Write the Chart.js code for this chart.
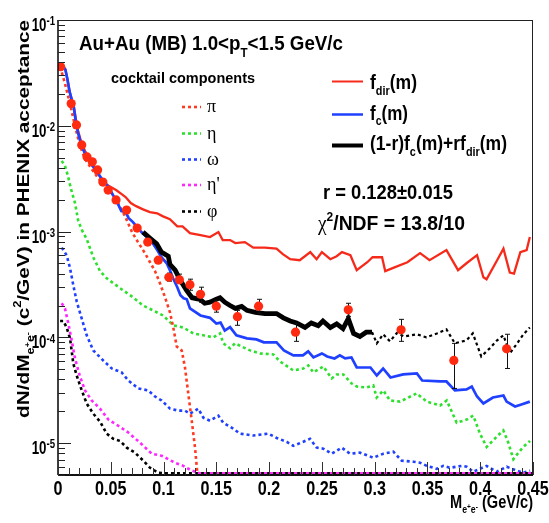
<!DOCTYPE html>
<html>
<head>
<meta charset="utf-8">
<script src="https://cdn.jsdelivr.net/npm/chart.js@4.4.0/dist/chart.umd.min.js"></script>
<style>
  html, body { margin: 0; padding: 0; background: #fff; }
  #wrap { width: 549px; height: 523px; position: relative; }
</style>
</head>
<body>
<div id="wrap"><canvas id="massChart" width="549" height="523"></canvas></div>
<script>
// Measured e+e- pairs (mass in GeV/c^2, yield, error band)
const pointMass = [0.0025, 0.0125, 0.0175, 0.0225, 0.0275, 0.0325, 0.0375, 0.0425, 0.0475, 0.055, 0.065, 0.075, 0.085, 0.095, 0.105, 0.115, 0.125, 0.135, 0.15, 0.17, 0.19, 0.225, 0.275, 0.325, 0.375, 0.425];
const pointY = [0.0362, 0.0162, 0.0102, 0.0066, 0.00508, 0.00456, 0.00383, 0.00294, 0.00247, 0.00199, 0.0016, 0.00108, 0.000795, 0.000537, 0.00037, 0.00035, 0.000315, 0.000255, 0.000197, 0.000157, 0.000197, 0.000112, 0.000182, 0.000118, 0.0000605, 0.000078];
const errHigh = [null, null, null, null, null, null, null, null, null, null, null, null, null, null, 0.000405, 0.000396, 0.000355, 0.000298, 0.000224, 0.00018, 0.000229, 0.000136, 0.00021, 0.000148, 0.0000877, 0.000107];
const errLow = [null, null, null, null, null, null, null, null, null, null, null, null, null, null, 0.00034, 0.000325, 0.000279, 0.000215, 0.000173, 0.00013, 0.000169, 0.0000917, 0.000158, 0.0000917, 0.0000329, 0.0000508];

// f_dir(m)
const fdirMass = [0.003, 0.005, 0.007, 0.009, 0.011, 0.015, 0.017, 0.019, 0.022, 0.026, 0.032, 0.037, 0.041, 0.045, 0.050, 0.055, 0.060, 0.064, 0.069, 0.074, 0.080, 0.087, 0.094, 0.099, 0.106, 0.113, 0.118, 0.125, 0.135, 0.144, 0.152, 0.156, 0.163, 0.168, 0.177, 0.185, 0.196, 0.207, 0.213, 0.220, 0.229, 0.239, 0.245, 0.250, 0.258, 0.264, 0.269, 0.277, 0.283, 0.293, 0.298, 0.307, 0.310, 0.317, 0.331, 0.343, 0.352, 0.368, 0.379, 0.387, 0.397, 0.403, 0.406, 0.416, 0.422, 0.428, 0.432, 0.438, 0.444, 0.447];
const fdirY = [0.0362, 0.0362, 0.034, 0.0273, 0.021, 0.0152, 0.0115, 0.00897, 0.00705, 0.00567, 0.00456, 0.00374, 0.00308, 0.00282, 0.00264, 0.00247, 0.00227, 0.00212, 0.00186, 0.00174, 0.00163, 0.00153, 0.00149, 0.0014, 0.00131, 0.00112, 0.00112, 0.000967, 0.000926, 0.000887, 0.000989, 0.000831, 0.000831, 0.000778, 0.000795, 0.000705, 0.000705, 0.00069, 0.000612, 0.000548, 0.000536, 0.000639, 0.000548, 0.000639, 0.000548, 0.000585, 0.000639, 0.000598, 0.000432, 0.000513, 0.000572, 0.000572, 0.000423, 0.000451, 0.000513, 0.000625, 0.000536, 0.000668, 0.000432, 0.000502, 0.000598, 0.00037, 0.000354, 0.000536, 0.00069, 0.000409, 0.0004, 0.000639, 0.000668, 0.000887];

// f_c(m)
const fcMass = [0.003, 0.005, 0.007, 0.009, 0.011, 0.015, 0.017, 0.019, 0.022, 0.026, 0.032, 0.037, 0.041, 0.048, 0.052, 0.056, 0.060, 0.064, 0.067, 0.071, 0.079, 0.084, 0.089, 0.094, 0.098, 0.103, 0.106, 0.109, 0.113, 0.116, 0.119, 0.122, 0.125, 0.135, 0.144, 0.150, 0.154, 0.158, 0.163, 0.169, 0.179, 0.188, 0.195, 0.207, 0.214, 0.223, 0.232, 0.237, 0.242, 0.250, 0.255, 0.262, 0.267, 0.272, 0.278, 0.283, 0.296, 0.302, 0.308, 0.315, 0.327, 0.340, 0.345, 0.362, 0.368, 0.376, 0.387, 0.392, 0.397, 0.403, 0.412, 0.422, 0.425, 0.433, 0.439, 0.447];
const fcY = [0.0354, 0.0362, 0.034, 0.0273, 0.021, 0.0148, 0.0108, 0.00858, 0.0066, 0.0053, 0.00427, 0.00366, 0.00321, 0.00264, 0.00222, 0.0019, 0.00156, 0.00153, 0.00134, 0.00123, 0.00099, 0.000887, 0.000795, 0.000668, 0.000572, 0.000502, 0.000432, 0.000362, 0.000298, 0.00025, 0.000234, 0.000229, 0.000188, 0.000161, 0.000153, 0.000135, 0.000138, 0.000116, 0.000125, 0.0001045, 0.0000978, 0.0000957, 0.0000897, 0.0000897, 0.0000753, 0.0000675, 0.0000675, 0.0000737, 0.0000646, 0.0000705, 0.000066, 0.0000632, 0.0000675, 0.0000632, 0.0000646, 0.0000519, 0.0000519, 0.0000436, 0.0000508, 0.0000418, 0.0000446, 0.0000456, 0.0000391, 0.0000383, 0.0000383, 0.0000315, 0.0000322, 0.0000343, 0.0000276, 0.0000237, 0.000027, 0.0000282, 0.0000247, 0.0000222, 0.0000232, 0.0000247];

// (1-r)f_c(m) + r f_dir(m): fit range, then its continuation
const comboMass = [0.0805, 0.087, 0.0935, 0.098, 0.1045, 0.106, 0.111, 0.116, 0.122, 0.127, 0.1345, 0.139, 0.144, 0.150, 0.1535, 0.158, 0.163, 0.168, 0.174, 0.179, 0.187, 0.196, 0.207, 0.2135, 0.220, 0.226, 0.234, 0.240, 0.2465, 0.251, 0.258, 0.264, 0.270, 0.275, 0.280, 0.286, 0.292, 0.2975];
const comboY = [0.000989, 0.00087, 0.000766, 0.000639, 0.000585, 0.000491, 0.000432, 0.000344, 0.000276, 0.000237, 0.000229, 0.00021, 0.000215, 0.000229, 0.000237, 0.000215, 0.0002, 0.000188, 0.000196, 0.00018, 0.000172, 0.000168, 0.000168, 0.000153, 0.000143, 0.000137, 0.000124, 0.000137, 0.000129, 0.000143, 0.000124, 0.000134, 0.000121, 0.00015, 0.000109, 0.000102, 0.000112, 0.000112];
const extMass = [0.2975, 0.302, 0.308, 0.3145, 0.321, 0.328, 0.340, 0.349, 0.359, 0.368, 0.376, 0.387, 0.393, 0.401, 0.409, 0.416, 0.422, 0.428, 0.435, 0.441, 0.447];
const extY = [0.000112, 0.0000878, 0.000107, 0.0000917, 0.00011, 0.000102, 0.000107, 0.0001, 0.000109, 0.000119, 0.0000878, 0.0000937, 0.000109, 0.000066, 0.0000787, 0.0000937, 0.0001045, 0.0000705, 0.0000878, 0.000107, 0.000124];

// cocktail components
const piMass = [0.002, 0.0066, 0.0114, 0.0161, 0.0208, 0.0256, 0.0319, 0.0379, 0.0445, 0.0512, 0.0568, 0.0635, 0.0701, 0.0758, 0.0824, 0.0872, 0.0919, 0.0966, 0.1014, 0.1061, 0.1092, 0.1125, 0.1172, 0.1203, 0.1234, 0.1267, 0.1298, 0.132, 0.45];
const piY = [0.0362, 0.0251, 0.0161, 0.01, 0.00646, 0.00487, 0.00391, 0.00321, 0.0027, 0.00227, 0.00186, 0.0014, 0.000989, 0.000795, 0.000625, 0.000513, 0.000423, 0.000325, 0.000239, 0.000172, 0.000124, 0.000082, 0.0000753, 0.0000519, 0.0000295, 0.0000163, 0.0000091, 0.0000052, 0.0000052];
const etaMass = [0.0035, 0.0066, 0.0092, 0.0123, 0.0161, 0.0192, 0.0227, 0.0272, 0.0334, 0.0398, 0.0461, 0.0524, 0.0616, 0.0711, 0.0805, 0.09, 0.0995, 0.1092, 0.1187, 0.1282, 0.1377, 0.1471, 0.1535, 0.1566, 0.163, 0.1677, 0.1756, 0.1819, 0.1914, 0.204, 0.2103, 0.2229, 0.2324, 0.2371, 0.2419, 0.2513, 0.2593, 0.264, 0.2703, 0.2782, 0.283, 0.2925, 0.2987, 0.3019, 0.3082, 0.3145, 0.324, 0.3398, 0.3493, 0.3619, 0.3683, 0.3777, 0.3872, 0.3934, 0.3998, 0.4061, 0.4156, 0.4219, 0.4266, 0.4314, 0.4361, 0.4408, 0.4472];
const etaY = [0.00466, 0.00418, 0.00343, 0.00253, 0.00186, 0.00126, 0.00103, 0.00085, 0.000572, 0.000423, 0.000362, 0.000325, 0.000279, 0.000239, 0.0002, 0.00018, 0.000161, 0.00013, 0.000124, 0.000109, 0.0001045, 0.0001, 0.000109, 0.0000878, 0.0000787, 0.0000878, 0.0000804, 0.0000753, 0.0000705, 0.000069, 0.0000592, 0.0000487, 0.0000508, 0.0000543, 0.0000466, 0.0000531, 0.0000409, 0.0000446, 0.0000446, 0.0000366, 0.0000343, 0.0000336, 0.0000351, 0.000027, 0.0000315, 0.0000253, 0.0000247, 0.0000295, 0.0000247, 0.0000227, 0.0000253, 0.0000156, 0.0000167, 0.0000182, 0.0000123, 0.0000092, 0.0000115, 0.0000132, 0.0000101, 0.00000705, 0.0000081, 0.0000092, 0.0000105];
const omegaMass = [0.0035, 0.0082, 0.0114, 0.0145, 0.0177, 0.0225, 0.0272, 0.0334, 0.0429, 0.0509, 0.0603, 0.0666, 0.0761, 0.0855, 0.0919, 0.0982, 0.1061, 0.114, 0.1203, 0.1251, 0.1329, 0.1377, 0.144, 0.1519, 0.1566, 0.1661, 0.1724, 0.185, 0.1992, 0.2072, 0.2167, 0.2229, 0.2324, 0.2387, 0.2451, 0.2513, 0.2593, 0.2688, 0.2766, 0.2861, 0.2987, 0.3082, 0.3177, 0.3256, 0.3366, 0.343, 0.3493, 0.3588, 0.365, 0.3714, 0.3825, 0.3872, 0.3934, 0.4061, 0.4156, 0.4251, 0.4346, 0.4408, 0.4472];
const omegaY = [0.000705, 0.000598, 0.000451, 0.000311, 0.000219, 0.00015, 0.0001045, 0.0000753, 0.0000604, 0.0000508, 0.0000466, 0.0000391, 0.0000329, 0.0000315, 0.0000276, 0.0000253, 0.0000212, 0.0000203, 0.0000203, 0.000019, 0.0000212, 0.0000174, 0.0000163, 0.0000182, 0.0000156, 0.0000137, 0.0000123, 0.0000118, 0.0000123, 0.0000112, 0.0000103, 0.00000944, 0.0000103, 0.000011, 0.00000907, 0.00000887, 0.00000795, 0.00000907, 0.00000795, 0.00000813, 0.00000729, 0.00000795, 0.0000083, 0.00000683, 0.00000668, 0.00000653, 0.0000061, 0.00000572, 0.0000061, 0.00000585, 0.0000061, 0.00000598, 0.00000537, 0.0000061, 0.00000537, 0.00000598, 0.0000055, 0.00000525, 0.0000055];
const etapMass = [0.0035, 0.0066, 0.0098, 0.013, 0.0161, 0.0208, 0.0256, 0.0319, 0.0398, 0.0477, 0.0571, 0.0666, 0.0777, 0.0888, 0.0982, 0.1108, 0.1187, 0.1267, 0.1345, 0.45];
const etapY = [0.00021, 0.000188, 0.000135, 0.0000937, 0.0000632, 0.0000427, 0.0000315, 0.0000253, 0.0000212, 0.0000167, 0.0000146, 0.0000126, 0.0000101, 0.00000795, 0.0000076, 0.00000653, 0.0000061, 0.0000055, 0.0000052, 0.0000052];
const phiMass = [0.002, 0.005, 0.0082, 0.0114, 0.0145, 0.0177, 0.0225, 0.0272, 0.0334, 0.0398, 0.0461, 0.0524, 0.0587, 0.0651, 0.0729, 0.0808, 0.0872, 0.095, 0.1014, 0.45];
const phiY = [0.000143, 0.000143, 0.000124, 0.0000978, 0.0000566, 0.0000436, 0.0000315, 0.0000237, 0.000019, 0.000016, 0.0000123, 0.000011, 0.0000105, 0.00000907, 0.00000813, 0.00000683, 0.00000585, 0.00000525, 0.0000052, 0.0000052];

// axes
const xTicks = [0, 0.05, 0.1, 0.15, 0.2, 0.25, 0.3, 0.35, 0.4, 0.45];
const xTickLabels = ['0', '0.05', '0.1', '0.15', '0.2', '0.25', '0.3', '0.35', '0.4', '0.45'];
const yDecades = [-5, -4, -3, -2, -1];

const SANS = "'Liberation Sans', Arial, Helvetica, sans-serif";
const SERIF = "'Liberation Serif', 'Times New Roman', serif";
const RED = '#f62a1a';
const BLUE = '#2040ff';
const GREEN = '#2ee02e';
const MAGENTA = '#ff26ff';
const BLACK = '#000';

const sub = (t, s = 0.62, dy = 0.28) => ({ t, s, dy });
const sup = (t, s = 0.62, dy = -0.45) => ({ t, s, dy });

// draw a run of text pieces (sub/superscripts) squeezed to a given width
function drawRich(ctx, parts, x, y, size, o = {}) {
    const fam = o.family || SANS;
    const weight = o.weight || 'bold';
    const fontOf = p => `${p.wt || weight} ${(size * (p.s || 1)).toFixed(1)}px ${p.f || fam}`;
    let w = 0;
    parts.forEach(p => { ctx.font = fontOf(p); p.w = ctx.measureText(p.t).width; w += p.w; });
    const sx = o.width ? o.width / w : (o.sx || 0.8);
    let x0 = x;
    if (o.align === 'right') x0 = x - w * sx;
    else if (o.align === 'center') x0 = x - w * sx / 2;
    ctx.save();
    ctx.translate(x0, y);
    ctx.scale(sx, 1);
    ctx.fillStyle = o.color || '#000';
    ctx.textBaseline = 'alphabetic';
    ctx.textAlign = 'left';
    let cx = 0;
    parts.forEach(p => {
        ctx.font = fontOf(p);
        ctx.fillText(p.t, cx, (p.dy || 0) * size);
        cx += p.w;
    });
    ctx.restore();
}

function segment(ctx, x1, y1, x2, y2, color, width, dash) {
    ctx.save();
    ctx.strokeStyle = color;
    ctx.lineWidth = width;
    ctx.setLineDash(dash || []);
    ctx.beginPath();
    ctx.moveTo(x1, y1);
    ctx.lineTo(x2, y2);
    ctx.stroke();
    ctx.restore();
}

const pairs = (xs, ys) => xs.map((x, i) => ({ x, y: ys[i] }));
const curve = (label, xs, ys, color, width, dash, order) => ({
    label, data: pairs(xs, ys), showLine: true, borderColor: color, borderWidth: width,
    borderDash: dash || [], pointRadius: 0, tension: 0, fill: false, order
});

const DOT = [3, 3];
const datasets = [
    { label: 'data', data: pairs(pointMass, pointY), pointRadius: 4.6, pointBackgroundColor: '#ff2a10', pointBorderWidth: 0, showLine: false, order: 0 },
    curve('combo ext', extMass, extY, BLACK, 2.2, DOT, 1),
    curve('combo', comboMass, comboY, BLACK, 4.8, null, 2),
    curve('fc', fcMass, fcY, BLUE, 2.7, null, 3),
    curve('fdir', fdirMass, fdirY, RED, 2.3, null, 4),
    curve('etap', etapMass, etapY, MAGENTA, 2.6, DOT, 5),
    curve('pi', piMass, piY, '#ff3a22', 2.6, DOT, 6),
    curve('phi', phiMass, phiY, BLACK, 2.6, DOT, 7),
    curve('omega', omegaMass, omegaY, BLUE, 2.6, DOT, 8),
    curve('eta', etaMass, etaY, GREEN, 2.6, DOT, 9)
];

const decor = {
    id: 'decor',
    beforeDatasetDraw(chart, args) {
        if (args.index !== 0) return;
        const { ctx, scales: { x, y } } = chart;
        ctx.save();
        ctx.strokeStyle = '#111';
        ctx.lineWidth = 1;
        pointMass.forEach((m, i) => {
            if (errHigh[i] == null) return;
            const px = Math.round(x.getPixelForValue(m)) + 0.5;
            const y1 = y.getPixelForValue(errHigh[i]);
            const y2 = y.getPixelForValue(errLow[i]);
            ctx.beginPath();
            ctx.moveTo(px, y1); ctx.lineTo(px, y2);
            ctx.moveTo(px - 2.5, y1); ctx.lineTo(px + 2.5, y1);
            ctx.moveTo(px - 2.5, y2); ctx.lineTo(px + 2.5, y2);
            ctx.stroke();
        });
        ctx.restore();
    },
    afterDraw(chart) {
        const { ctx, chartArea: a, scales: { x, y } } = chart;

        // frame
        segment(ctx, a.left, a.top + 0.5, a.right, a.top + 0.5, '#222', 1);
        segment(ctx, a.right - 0.5, a.top, a.right - 0.5, a.bottom, '#222', 1);
        segment(ctx, a.left, a.top, a.left, a.bottom, '#111', 1.6);
        segment(ctx, a.left, a.bottom, a.right, a.bottom, '#111', 2);

        // y ticks (log)
        for (let e = -6; e <= -1; e++) {
            for (let k = 1; k <= 9; k++) {
                const v = k * Math.pow(10, e);
                if (v < y.min * 0.999 || v > y.max * 1.001) continue;
                const py = Math.round(y.getPixelForValue(v)) + 0.5;
                segment(ctx, a.left, py, a.left + (k === 1 ? 13 : 7), py, '#222', 1);
            }
        }
        yDecades.forEach(e => {
            const py = y.getPixelForValue(Math.pow(10, e));
            drawRich(ctx, [{ t: '10' }, sup(String(e), 0.72, -0.32)], 55, py + 11, 18, { align: 'right', sx: 0.74 });
        });

        // x ticks
        for (let i = 0; i <= 45; i++) {
            const px = Math.round(x.getPixelForValue(i / 100)) + 0.5;
            segment(ctx, px, a.bottom, px, a.bottom - (i % 5 === 0 ? 13 : 7), '#333', 1);
        }
        xTicks.forEach((v, i) => {
            drawRich(ctx, [{ t: xTickLabels[i] }], x.getPixelForValue(v), 495, 21, { align: 'center', sx: 0.77 });
        });

        // axis titles
        drawRich(ctx, [{ t: 'M' }, sub('e', 0.6, 0.3), sub('+', 0.45, 0.05), sub('e', 0.6, 0.3), sub('-', 0.45, 0.05), { t: ' (GeV/c)' }],
            450, 508, 18, { width: 83 });
        ctx.save();
        ctx.translate(29, 418);
        ctx.rotate(-Math.PI / 2);
        drawRich(ctx, [{ t: 'dN/dM' }, sub('e', 0.6, 0.3), sub('+', 0.45, 0.05), sub('e', 0.6, 0.3), sub('-', 0.45, 0.05),
            { t: ' (c' }, sup('2'), { t: '/GeV) in PHENIX acceptance' }], 0, 0, 17, { width: 398 });
        ctx.restore();

        // header
        drawRich(ctx, [{ t: 'Au+Au (MB) 1.0<p' }, sub('T', 0.62, 0.35), { t: '<1.5 GeV/c' }], 79, 50, 21, { width: 264 });
        drawRich(ctx, [{ t: 'cocktail components' }], 111, 83, 15, { width: 144 });

        // cocktail legend
        const cocktail = [
            ['π', '#ff3a22', 107], ['η', GREEN, 133.5], ['ω', BLUE, 159.5], ["η'", MAGENTA, 185], ['φ', BLACK, 211.5]
        ];
        cocktail.forEach(([name, color, ly]) => {
            segment(ctx, 182, ly, 201, ly, color, 2.6, DOT);
            drawRich(ctx, [{ t: name }], 207, ly + 5, 19, { family: SERIF, weight: 'normal', sx: 0.95 });
        });

        // fit legend
        segment(ctx, 332, 81.5, 363, 81.5, RED, 2);
        drawRich(ctx, [{ t: 'f' }, sub('dir'), { t: '(m)' }], 370, 89, 21, { width: 47 });
        segment(ctx, 332, 114.5, 363, 114.5, BLUE, 2.5);
        drawRich(ctx, [{ t: 'f' }, sub('c'), { t: '(m)' }], 370, 119.5, 21, { width: 38 });
        segment(ctx, 332, 145.5, 363, 145.5, BLACK, 4);
        drawRich(ctx, [{ t: '(1-r)f' }, sub('c'), { t: '(m)+rf' }, sub('dir'), { t: '(m)' }], 370, 150, 21, { width: 137 });

        drawRich(ctx, [{ t: 'r = 0.128±0.015' }], 323, 198.5, 20, { width: 130 });
        drawRich(ctx, [{ t: 'χ', f: SERIF, wt: 'normal' }, sup('2'), { t: '/NDF = 13.8/10' }], 318, 230, 20, { width: 147 });
    }
};

new Chart(document.getElementById('massChart').getContext('2d'), {
    type: 'scatter',
    data: { datasets },
    options: {
        responsive: false,
        animation: false,
        events: [],
        layout: { padding: { left: 58, right: 16, top: 20, bottom: 48 } },
        plugins: { legend: { display: false }, tooltip: { enabled: false } },
        scales: {
            x: { type: 'linear', min: 0, max: 0.45, display: false },
            y: { type: 'logarithmic', min: 0.000005, max: 0.1, display: false }
        }
    },
    plugins: [decor]
});
</script>
</body>
</html>
